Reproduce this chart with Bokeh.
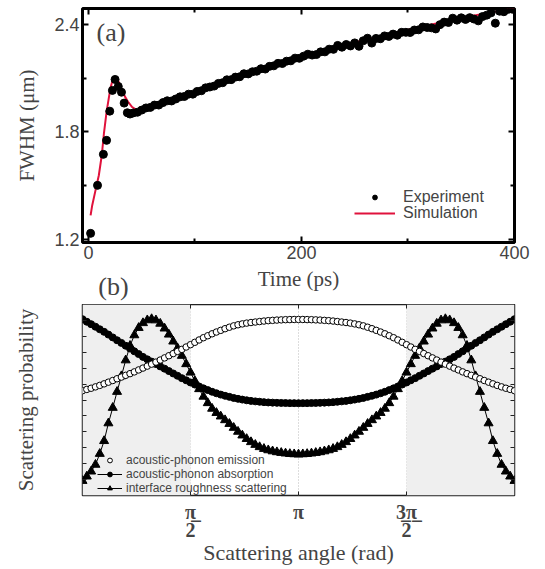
import numpy as np
from bokeh.plotting import figure
from bokeh.layouts import column
from bokeh.models import (FixedTicker, LinearAxis, Label, Legend, LegendItem,
                          BoxAnnotation, CustomJSTickFormatter, Range1d)
from bokeh.embed import file_html
from bokeh.resources import INLINE

# ---------------- Panel (a) data ----------------
exp_time = [2, 8.5, 14, 17, 20, 22.5, 25, 28, 31, 33.5, 36.5, 39,
            42, 46, 50, 54, 58, 62, 66, 70, 74, 78, 82, 86, 90, 94, 98, 102, 106, 110,
            114, 118, 122, 126, 130, 134, 138, 142, 146, 150, 154, 158, 162, 166, 170,
            174, 178, 182, 186, 190, 194, 198, 202, 206, 210, 214, 218, 222, 226, 230,
            234, 238, 242, 246, 250, 254, 258, 262, 266, 270, 274, 278, 282, 286, 290,
            294, 298, 302, 306, 310, 314, 318, 322, 326, 330, 334, 338, 342, 346, 350,
            354, 358, 362, 366, 370, 374, 378, 382, 386, 390, 394, 398]
exp_fwhm = [1.234, 1.502, 1.675, 1.753, 1.916, 2.032, 2.093, 2.054, 2.022, 1.961, 1.907, 1.900,
            1.906, 1.910, 1.922, 1.934, 1.937, 1.950, 1.950, 1.964, 1.974, 1.973, 1.984, 1.996,
            1.998, 2.011, 2.011, 2.026, 2.030, 2.046, 2.051, 2.056, 2.071, 2.075, 2.091, 2.092,
            2.106, 2.108, 2.125, 2.124, 2.136, 2.139, 2.153, 2.151, 2.166, 2.169, 2.183, 2.182,
            2.195, 2.197, 2.212, 2.211, 2.223, 2.234, 2.229, 2.232, 2.247, 2.247, 2.262, 2.261,
            2.283, 2.273, 2.288, 2.280, 2.297, 2.278, 2.309, 2.323, 2.296, 2.322, 2.320, 2.336,
            2.333, 2.346, 2.340, 2.356, 2.356, 2.355, 2.369, 2.370, 2.386, 2.383, 2.381, 2.375,
            2.399, 2.413, 2.411, 2.435, 2.424, 2.437, 2.428, 2.438, 2.430, 2.420, 2.444, 2.452,
            2.465, 2.407, 2.474, 2.471, 2.485, 2.485]
sim_time = [2, 3.5, 6.6, 9.7, 12.5, 14.5, 17, 20.7, 23, 25.5, 28.5, 31.6, 34, 37, 41, 45.7,
            50, 60, 70, 80, 90, 100, 110, 120, 130, 140, 150, 160, 170, 180, 190, 200, 210,
            220, 230, 240, 250, 260, 270, 280, 290, 300, 310, 320, 330, 340, 350, 360, 370,
            380, 390, 400]
sim_fwhm = [1.334, 1.390, 1.474, 1.557, 1.670, 1.790, 1.912, 2.047, 2.095, 2.106, 2.078, 2.032,
            2.000, 1.970, 1.939, 1.920, 1.925, 1.944, 1.963, 1.982, 2.002, 2.021, 2.044, 2.066,
            2.088, 2.110, 2.130, 2.148, 2.166, 2.184, 2.203, 2.220, 2.236, 2.252, 2.268, 2.284,
            2.299, 2.314, 2.329, 2.343, 2.357, 2.371, 2.384, 2.397, 2.410, 2.423, 2.435, 2.447,
            2.458, 2.469, 2.480, 2.490]
a_xticks = [0, 200, 400]
a_xminor = [100, 300]
a_yticks = [1.2, 1.8, 2.4]
a_yminor = [1.5, 2.1]
panel_b_tag_at = 23.5   # time coordinate under which the "(b)" tag sits

# ---------------- Panel (b) data ----------------
n_angles = 101
angle = np.linspace(0, 2 * np.pi, n_angles)
emission = [107.0, 108.3, 109.5, 110.9, 112.4, 114.0, 115.7, 117.4, 119.2, 120.9, 122.7, 124.4,
            126.2, 128.2, 130.1, 132.1, 134.1, 136.2, 138.3, 140.5, 142.7, 144.9, 147.1, 149.2,
            151.6, 154.0, 156.4, 158.8, 161.1, 163.1, 165.1, 166.9, 168.6, 170.3, 171.8, 173.2,
            174.3, 175.2, 176.0, 176.6, 177.1, 177.6, 178.1, 178.5, 178.8, 179.1, 179.3, 179.5,
            179.6, 179.7, 179.7,
            179.7, 179.6, 179.5, 179.3, 179.1, 178.8, 178.5, 178.1, 177.6, 177.1, 176.6, 176.0,
            175.2, 174.3, 173.2, 171.8, 170.3, 168.6, 166.9, 165.1, 163.1, 161.1, 158.8, 156.4,
            154.0, 151.6, 149.2, 147.1, 144.9, 142.7, 140.5, 138.3, 136.2, 134.1, 132.1, 130.1,
            128.2, 126.2, 124.4, 122.7, 120.9, 119.2, 117.4, 115.7, 114.0, 112.4, 110.9, 109.5,
            108.3, 107.0]
absorption = [180.0, 177.4, 174.9, 172.3, 169.7, 167.1, 164.3, 161.4, 158.5, 155.8, 152.9, 150.0,
              147.2, 144.4, 141.5, 139.0, 136.7, 134.2, 131.8, 129.5, 127.0, 124.6, 122.2, 119.8,
              117.6, 115.4, 113.3, 111.3, 109.4, 107.6, 105.9, 104.4, 103.0, 101.8, 100.7, 99.6,
              98.7, 97.9, 97.2, 96.6, 96.1, 95.7, 95.3, 95.0, 94.8, 94.6, 94.5, 94.4, 94.3, 94.3,
              94.2,
              94.3, 94.3, 94.4, 94.5, 94.6, 94.8, 95.0, 95.3, 95.7, 96.1, 96.6, 97.2, 97.9, 98.7,
              99.6, 100.7, 101.8, 103.0, 104.4, 105.9, 107.6, 109.4, 111.3, 113.3, 115.4, 117.6,
              119.8, 122.2, 124.6, 127.0, 129.5, 131.8, 134.2, 136.7, 139.0, 141.5, 144.4, 147.2,
              150.0, 152.9, 155.8, 158.5, 161.4, 164.3, 167.1, 169.7, 172.3, 174.9, 177.4, 180.0]
roughness = [15.0, 19.5, 24.6, 31.5, 42.6, 55.7, 73.8, 89.6, 105.9, 121.9, 138.1, 152.9, 163.7,
             171.2, 176.1, 179.0, 180.2, 178.9, 175.5, 170.6, 164.4, 157.3, 150.4, 142.7, 134.2,
             125.6, 117.0, 108.7, 101.0, 94.4, 88.7, 84.4, 80.8, 77.0, 73.2, 69.2, 65.2, 61.4,
             57.8, 54.6, 51.8, 49.5, 47.7, 46.3, 45.2, 44.3, 43.6, 43.0, 42.5, 42.2, 42.0,
             42.2, 42.5, 43.0, 43.6, 44.3, 45.2, 46.3, 47.7, 49.5, 51.8, 54.6, 57.8, 61.4, 65.2,
             69.2, 73.2, 77.0, 80.8, 84.4, 88.7, 94.4, 101.0, 108.7, 117.0, 125.6, 134.2, 142.7,
             150.4, 157.3, 164.4, 170.6, 175.5, 178.9, 180.2, 179.0, 176.1, 171.2, 163.7, 152.9,
             138.1, 121.9, 105.9, 89.6, 73.8, 55.7, 42.6, 31.5, 24.6, 19.5, 15.0]
b_xticks = [np.pi / 2, np.pi, 3 * np.pi / 2]
b_xtick_labels = ["\u03c0\u0332\n2", "\u03c0", "3\u0332\u03c0\u0332\n2"]
b_yticks = [195 * k / 12 for k in range(1, 12)]

SERIF = "Liberation Serif"
SANS = "Liberation Sans"
RED = "#E0123C"


def blank():
    return CustomJSTickFormatter(code="return ''")


def mirror_axis(ticker):
    return LinearAxis(ticker=ticker, formatter=blank(), major_label_standoff=0,
                      major_label_text_font_size="1px")


def one_row_legend(label, renderers, loc, glyph_width, font_size):
    return Legend(items=[LegendItem(label=label, renderers=renderers)],
                  location=loc, padding=0, margin=0, spacing=0,
                  glyph_width=glyph_width, glyph_height=12, label_height=12,
                  label_standoff=8 if glyph_width > 30 else 4,
                  label_text_font=SANS, label_text_font_size=font_size,
                  border_line_color=None, background_fill_alpha=0)


# ================= Panel (a) =================
p1 = figure(width=537, height=304, x_range=Range1d(-5.6, 400), y_range=Range1d(1.183, 2.489),
            output_backend="svg", toolbar_location=None,
            min_border_left=82, min_border_right=23, min_border_top=8, min_border_bottom=62)
p1.grid.visible = False
p1.outline_line_color = "black"
p1.outline_line_width = 3

r_sim = p1.line(sim_time, sim_fwhm, line_color=RED, line_width=2)
r_exp = p1.scatter(exp_time, exp_fwhm, marker="circle", size=8,
                   fill_color="black", line_color="black")

xt = FixedTicker(ticks=a_xticks, minor_ticks=a_xminor)
yt = FixedTicker(ticks=a_yticks, minor_ticks=a_yminor)
axb = p1.below[0]
axl = p1.left[0]
axb.ticker = xt
axl.ticker = yt
axb.axis_label = "Time (ps)"
axl.axis_label = "FWHM (μm)"
for ax in (axb, axl):
    ax.axis_label_text_font = SERIF
    ax.axis_label_text_font_style = "normal"
    ax.axis_label_text_font_size = "21px"
    ax.major_label_text_font = SANS
    ax.major_label_text_font_size = "18px"
    ax.major_label_standoff = 3
axb.axis_label_standoff = 5
axl.axis_label_standoff = 12

axt = mirror_axis(xt)
axr = mirror_axis(yt)
p1.add_layout(axt, "above")
p1.add_layout(axr, "right")
for ax in (axb, axl, axt, axr):
    ax.axis_line_color = None
    ax.major_tick_in = 6
    ax.major_tick_out = 0
    ax.minor_tick_in = 4
    ax.minor_tick_out = 0
    ax.major_tick_line_width = 2
    ax.minor_tick_line_width = 2
    ax.major_tick_line_color = "black"
    ax.minor_tick_line_color = "black"

# "(b)" panel tag, drawn as a tick label of an extra, line-less axis under panel (a)
tag_axis = LinearAxis(ticker=FixedTicker(ticks=[panel_b_tag_at]),
                      major_label_overrides={panel_b_tag_at: "(b)"},
                      major_label_text_font=SERIF, major_label_text_font_size="26px",
                      major_label_standoff=-28, axis_line_color=None,
                      major_tick_line_color=None, minor_tick_line_color=None)
p1.add_layout(tag_axis, "below")

p1.add_layout(one_row_legend("Experiment", [r_exp], (272, 36), 41, "16px"))
p1.add_layout(one_row_legend("Simulation", [r_sim], (272, 20), 41, "16px"))

p1.add_layout(Label(x=14, y=210.5, x_units="screen", y_units="screen", text="(a)",
                    text_font=SERIF, text_font_size="26px", text_baseline="middle"))

# ================= Panel (b) =================
p2 = figure(width=537, height=264, x_range=Range1d(0, 2 * np.pi), y_range=Range1d(0, 195),
            output_backend="svg", toolbar_location=None,
            min_border_left=78, min_border_right=22, min_border_top=0, min_border_bottom=69)
p2.outline_line_color = "#222222"
p2.outline_line_width = 1.5
p2.ygrid.visible = False
p2.xgrid.ticker = FixedTicker(ticks=b_xticks)
p2.xgrid.grid_line_color = "#BBBBBB"
p2.xgrid.grid_line_dash = "1 2"
p2.xgrid.grid_line_width = 1

p2.add_layout(BoxAnnotation(left=0, right=np.pi / 2, fill_color="#EFEFEF", fill_alpha=1,
                            line_color=None, level="underlay"))
p2.add_layout(BoxAnnotation(left=3 * np.pi / 2, right=2 * np.pi, fill_color="#EFEFEF",
                            fill_alpha=1, line_color=None, level="underlay"))

r_rough_l = p2.line(angle, roughness, line_color="black", line_width=1)
r_rough = p2.scatter(angle, roughness, marker="triangle", size=9,
                     fill_color="black", line_color="black")
r_abs_l = p2.line(angle, absorption, line_color="black", line_width=1)
r_abs = p2.scatter(angle, absorption, marker="circle", size=7,
                   fill_color="black", line_color="black")
r_em = p2.scatter(angle, emission, marker="circle", size=6.5,
                  fill_color="white", line_color="black", line_width=1)

bxt = FixedTicker(ticks=b_xticks)
byt = FixedTicker(ticks=b_yticks)
bb = p2.below[0]
bl = p2.left[0]
bb.ticker = bxt
bl.ticker = byt
bb.major_label_overrides = dict(zip(b_xticks, b_xtick_labels))
bb.major_label_text_font = SERIF
bb.major_label_text_font_style = "bold"
bb.major_label_text_font_size = "20px"
bb.major_label_text_line_height = 0.85
bb.major_label_standoff = 5
bl.formatter = blank()
bl.major_label_standoff = 0
bb.axis_label = "Scattering angle (rad)"
bl.axis_label = "Scattering probability"
for ax in (bb, bl):
    ax.axis_label_text_font = SERIF
    ax.axis_label_text_font_style = "normal"
bb.axis_label_text_font_size = "22px"
bl.axis_label_text_font_size = "21px"
bb.axis_label_standoff = -4
bl.axis_label_standoff = 45
bt = mirror_axis(bxt)
br = mirror_axis(byt)
p2.add_layout(bt, "above")
p2.add_layout(br, "right")
for ax in (bb, bl, bt, br):
    ax.axis_line_color = None
    ax.major_tick_in = 4
    ax.major_tick_out = 0
    ax.minor_tick_line_color = None
    ax.major_tick_line_color = "#222222"
    ax.major_tick_line_width = 1

p2.add_layout(one_row_legend("acoustic-phonon emission", [r_em], (15, 28), 25, "12px"))
p2.add_layout(one_row_legend("acoustic-phonon absorption", [r_abs_l, r_abs], (15, 14), 25, "12px"))
p2.add_layout(one_row_legend("interface roughness scattering", [r_rough_l, r_rough],
                             (15, 0), 25, "12px"))

layout = column(p1, p2, spacing=0)
open("out.html", "w").write(file_html(layout, INLINE))
